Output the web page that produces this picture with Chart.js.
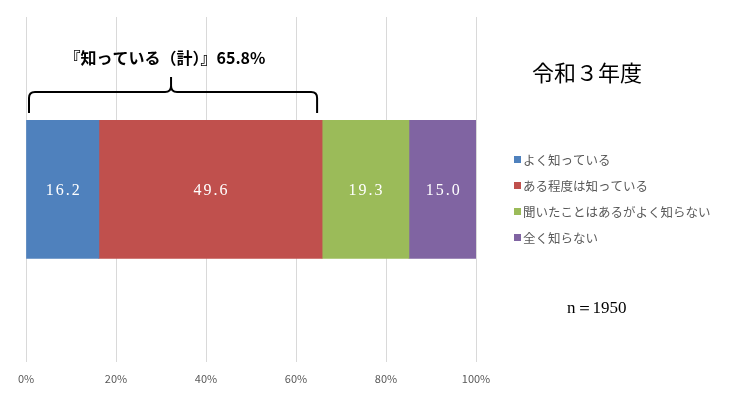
<!DOCTYPE html>
<html>
<head>
<meta charset="utf-8">
<script src="https://cdn.jsdelivr.net/npm/chart.js@4"></script>
<style>
  html, body { margin: 0; padding: 0; background: #fff; }
  #wrap { width: 740px; height: 395px; position: relative; }
</style>
</head>
<body>
<div id="wrap"><canvas id="chart"></canvas></div>
<script>
// data
var categories = ['令和３年度'];
var seriesNames = ['よく知っている', 'ある程度は知っている', '聞いたことはあるがよく知らない', '全く知らない'];
var seriesValues = [16.2, 49.6, 19.3, 15.0];
var seriesColors = ['#4F81BD', '#C0504D', '#9BBB59', '#8064A2'];
var xTicks = [0, 20, 40, 60, 80, 100];
var knowTotalLabel = '『知っている（計）』65.8%';
var knowTotal = 65.8;
var sampleLabel = 'n＝1950';

var sans = '"Noto Sans CJK JP", "Noto Sans", sans-serif';
var serif = '"Liberation Serif", "DejaVu Serif", serif';

// labels inside bars + brace, title, legend, n
var extras = {
  id: 'extras',
  afterDatasetsDraw(chart) {
    var ctx = chart.ctx;
    ctx.save();
    // values in bars
    chart.data.datasets.forEach((ds, i) => {
      var bar = chart.getDatasetMeta(i).data[0];
      var cx = (bar.x + bar.base) / 2;
      ctx.fillStyle = '#fff';
      ctx.font = '16px ' + serif;
      ctx.letterSpacing = '2px';
      ctx.textAlign = 'center';
      ctx.textBaseline = 'middle';
      ctx.fillText(ds.data[0].toFixed(1), cx + 1, bar.y + 1);
    });
    ctx.letterSpacing = '0px';

    // brace over "know" total
    var xs = chart.scales.x;
    var x0 = xs.getPixelForValue(0) + 3;
    var x1 = xs.getPixelForValue(knowTotal) - 5;
    var xm = (x0 + x1) / 2 - 2;
    var yLine = 92, yEnd = 113, yTop = 77, r = 6;
    ctx.strokeStyle = '#000';
    ctx.lineWidth = 2;
    ctx.beginPath();
    ctx.moveTo(x0, yEnd);
    ctx.lineTo(x0, yLine + r);
    ctx.quadraticCurveTo(x0, yLine, x0 + r, yLine);
    ctx.lineTo(xm - r, yLine);
    ctx.quadraticCurveTo(xm, yLine, xm, yLine - r);
    ctx.lineTo(xm, yTop);
    ctx.moveTo(xm, yLine - r);
    ctx.quadraticCurveTo(xm, yLine, xm + r, yLine);
    ctx.lineTo(x1 - r, yLine);
    ctx.quadraticCurveTo(x1, yLine, x1, yLine + r);
    ctx.lineTo(x1, yEnd);
    ctx.stroke();

    ctx.fillStyle = '#000';
    ctx.font = 'bold 16px ' + sans;
    ctx.textAlign = 'center';
    ctx.textBaseline = 'middle';
    ctx.fillText(knowTotalLabel, 165, 58);

    // year title
    ctx.font = '22px ' + sans;
    ctx.textAlign = 'left';
    ctx.fillText(categories[0], 532, 73);

    // legend
    ctx.font = '12.5px ' + sans;
    seriesNames.forEach((name, i) => {
      var y = 159 + i * 26;
      ctx.fillStyle = seriesColors[i];
      ctx.fillRect(514, y - 3, 7, 7);
      ctx.fillStyle = '#595959';
      ctx.fillText(name, 523, y + 1);
    });

    // sample size
    ctx.fillStyle = '#000';
    ctx.font = '17px ' + serif;
    ctx.fillText(sampleLabel, 567, 309);
    ctx.restore();
  }
};

new Chart(document.getElementById('chart'), {
  type: 'bar',
  data: {
    labels: categories,
    datasets: seriesNames.map((name, i) => ({
      label: name,
      data: [seriesValues[i]],
      backgroundColor: seriesColors[i],
      borderWidth: 0,
      barThickness: 138
    }))
  },
  options: {
    indexAxis: 'y',
    responsive: true,
    maintainAspectRatio: false,
    animation: false,
    layout: { padding: { left: 26, right: 264, top: 17, bottom: 0 } },
    plugins: { legend: { display: false }, tooltip: { enabled: false } },
    scales: {
      x: {
        stacked: true,
        min: 0,
        max: 100,
        afterBuildTicks(scale) { scale.ticks = xTicks.map(v => ({ value: v })); },
        grid: { color: '#D9D9D9', lineWidth: 1, tickLength: 0, drawTicks: false },
        border: { display: false },
        ticks: {
          padding: 10,
          color: '#595959',
          font: { size: 11, family: sans },
          callback: v => v + '%'
        }
      },
      y: {
        stacked: true,
        display: false
      }
    }
  },
  plugins: [extras]
});
</script>
</body>
</html>
